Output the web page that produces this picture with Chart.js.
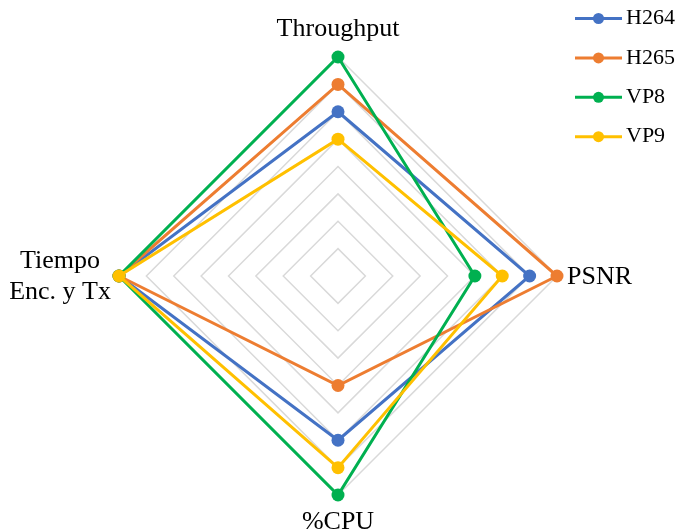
<!DOCTYPE html>
<html>
<head>
<meta charset="utf-8">
<script src="https://cdn.jsdelivr.net/npm/chart.js@4.4.0/dist/chart.umd.min.js"></script>
<style>
  html, body { margin: 0; padding: 0; background: #fff; }
</style>
</head>
<body>
<canvas id="codecRadar" width="676" height="531"></canvas>
<script>
// Axes of the radar, clockwise from the top
const metrics = [['Throughput'], ['PSNR'], ['%CPU'], ['Tiempo', 'Enc. y Tx']];

// Scores per codec (0-8 scale), same order as metrics
const h264 = [6, 7, 6, 8];
const h265 = [7, 8, 4, 8];
const vp8 = [8, 5, 8, 8];
const vp9 = [5, 6, 7, 8];

const codecNames = ['H264', 'H265', 'VP8', 'VP9'];
const codecColors = ['#4472C4', '#ED7D31', '#00B050', '#FFC000'];
const codecScores = [h264, h265, vp8, vp9];

const serif = '"Liberation Serif", "Times New Roman", serif';

// Axis names around the web, placed from the scale's own point positions.
// Multi-line names are centred line by line like the original.
const axisNames = {
    id: 'axisNames',
    afterDraw(chart) {
        const scale = chart.scales.r;
        const ctx = chart.ctx;
        const lineGap = 31.7;
        const gaps = [21, 10, 34, 8];
        ctx.save();
        ctx.font = '26px ' + serif;
        ctx.fillStyle = '#000';
        ctx.textBaseline = 'alphabetic';
        chart.data.labels.forEach(function (lines, i) {
            const p = scale.getPointPosition(i, scale.drawingArea + gaps[i]);
            const n = lines.length;
            const dx = Math.cos(p.angle);
            const dy = Math.sin(p.angle);
            if (Math.abs(dy) > 0.5) {
                // top / bottom
                ctx.textAlign = 'center';
                lines.forEach(function (t, k) {
                    const y = dy < 0 ? p.y - (n - 1 - k) * lineGap : p.y + k * lineGap;
                    ctx.fillText(t, p.x, y);
                });
            } else {
                // left / right
                const blockW = Math.max.apply(null, lines.map(function (t) { return ctx.measureText(t).width; }));
                const cx = dx > 0 ? p.x + blockW / 2 : p.x - blockW / 2;
                ctx.textAlign = 'center';
                lines.forEach(function (t, k) {
                    ctx.fillText(t, cx, p.y + 7.5 + (k - (n - 1) / 2) * lineGap);
                });
            }
        });
        ctx.restore();
    }
};

// Legend in the top right corner: short line with a dot, then the name
const sideLegend = {
    id: 'sideLegend',
    afterDraw(chart) {
        const ctx = chart.ctx;
        ctx.save();
        ctx.font = '22px ' + serif;
        ctx.textBaseline = 'middle';
        ctx.textAlign = 'left';
        chart.data.datasets.forEach(function (ds, i) {
            const y = 18.5 + i * 39.4;
            ctx.strokeStyle = ds.borderColor;
            ctx.lineWidth = 3;
            ctx.beginPath();
            ctx.moveTo(575, y);
            ctx.lineTo(622, y);
            ctx.stroke();
            ctx.fillStyle = ds.borderColor;
            ctx.beginPath();
            ctx.arc(598.5, y, 5.5, 0, Math.PI * 2);
            ctx.fill();
            ctx.fillStyle = '#000';
            ctx.fillText(ds.label, 626, y);
        });
        ctx.restore();
    }
};

const ctx = document.getElementById('codecRadar').getContext('2d');
const codecRadar = new Chart(ctx, {
    type: 'radar',
    data: {
        labels: metrics,
        datasets: codecNames.map(function (name, i) {
            return {
                label: name,
                data: codecScores[i],
                borderColor: codecColors[i],
                backgroundColor: codecColors[i],
                pointBackgroundColor: codecColors[i],
                pointBorderColor: codecColors[i],
                borderWidth: 3,
                pointRadius: 6.5,
                pointBorderWidth: 0,
                fill: false,
                order: codecNames.length - 1 - i
            };
        })
    },
    options: {
        responsive: false,
        animation: false,
        layout: {
            padding: { top: 57, bottom: 36, left: 0, right: 0 }
        },
        plugins: {
            legend: { display: false },
            tooltip: { enabled: false }
        },
        scales: {
            r: {
                min: 0,
                max: 8,
                ticks: { display: false, stepSize: 1 },
                angleLines: { display: false },
                grid: { color: '#d9d9d9', lineWidth: 1.5 },
                pointLabels: { display: false }
            }
        }
    },
    plugins: [axisNames, sideLegend]
});
</script>
</body>
</html>
